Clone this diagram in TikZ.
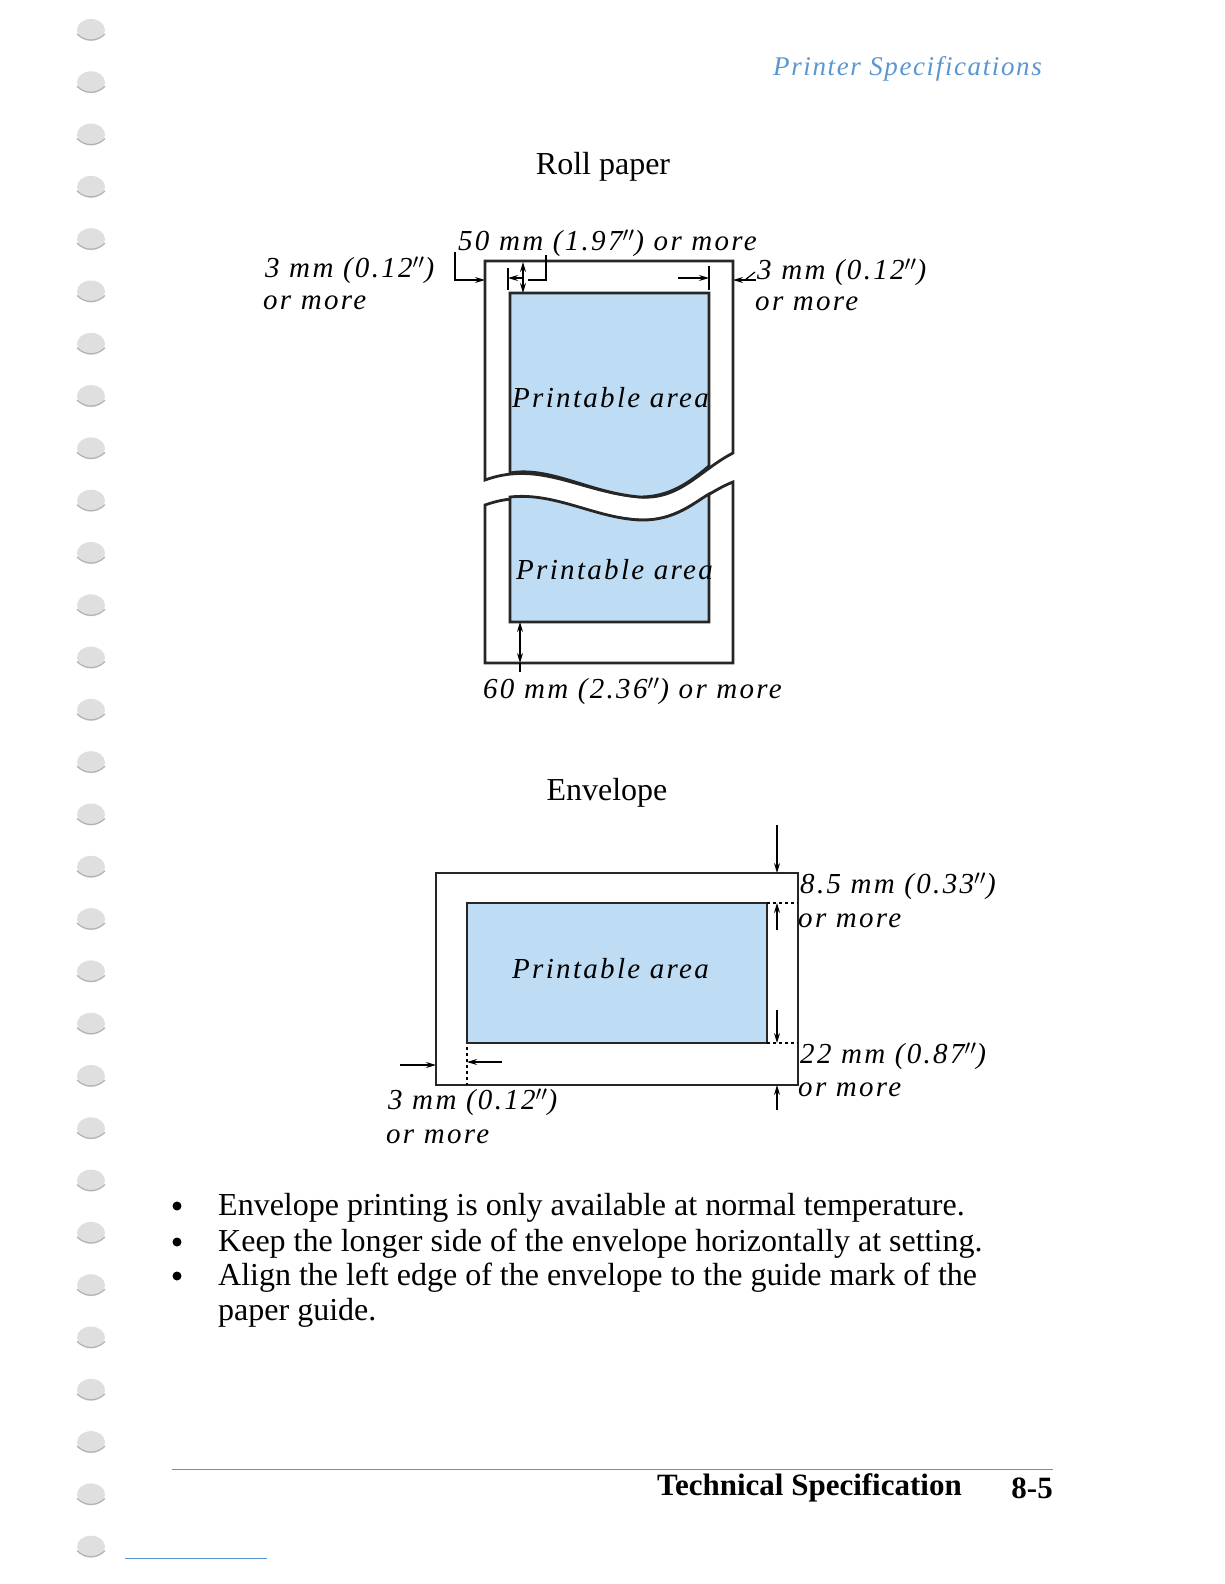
\documentclass[tikz,border=0pt]{standalone}
\usepackage{fontspec}
\setmainfont{Liberation Serif}
\usetikzlibrary{arrows.meta}
\definecolor{pa}{RGB}{190,220,243}
\definecolor{hb}{RGB}{90,150,210}
\tikzset{edge/.style={line width=2.8pt,draw=black!85},
 dim/.style={line width=1.2pt,-{Stealth[length=10pt,width=6pt]}},
 ddim/.style={line width=1.2pt,{Stealth[length=10pt,width=6pt]}-{Stealth[length=10pt,width=6pt]}},
 lab/.style={font=\fontsize{29}{34}\selectfont\itshape\addfontfeatures{LetterSpace=8},inner sep=0pt,anchor=west,yshift=-7pt},
 big/.style={font=\fontsize{32}{38}\selectfont,inner sep=0pt,yshift=-6pt}}
\begin{document}
\begin{tikzpicture}[x=1pt,y=-1pt]
\useasboundingbox (0,0) rectangle (1224,1584);
% binding holes
\foreach \i in {0,...,29}{
 \fill[gray!25] (91,{30+52.3*\i}) ellipse (14 and 11);
 \draw[gray!60,line width=1.2pt] (77,{34+52.3*\i}) .. controls (85,{42+52.3*\i}) and (97,{42+52.3*\i}) .. (105,{34+52.3*\i});}
\node[font=\fontsize{27}{32}\selectfont\itshape\addfontfeatures{LetterSpace=6},text=hb,anchor=east,inner sep=0pt,yshift=-6pt] (hdr) at (1042,63) {Printer Specifications};
\node[big] (rt) at (603,161) {Roll paper};
% roll paper top piece
\path[edge,fill=white] (485,261) -- (733,261) -- (733,453) .. controls (700,470) and (680,500) .. (640,497) .. controls (580,492) and (540,460) .. (485,480) -- cycle;
\path[edge,fill=pa] (510,293) -- (709,293) -- (709,466) .. controls (690,482) and (670,497) .. (640,497) .. controls (590,493) and (550,466) .. (510,473) -- cycle;
% lower piece
\path[edge,fill=white] (485,505) .. controls (540,485) and (580,517) .. (640,520) .. controls (680,522) and (700,495) .. (733,482) -- (733,663) -- (485,663) -- cycle;
\path[edge,fill=pa] (510,497) .. controls (555,492) and (595,518) .. (640,520) .. controls (675,521) and (695,502) .. (709,494) -- (709,622) -- (510,622) -- cycle;
\node[lab] (pa1) at (512,391) {Printable area};
\node[lab] (pa2) at (516,563) {Printable area};
% top dims
\node[lab] (t50) at (458,236) {50 mm (1.97$''$) or more};
\node[lab] (tl) at (265,263) {3 mm (0.12$''$)};
\node[lab] (tl2) at (263,296) {or more};
\node[lab] (tr) at (757,265) {3 mm (0.12$''$)};
\node[lab] (tr2) at (755,297) {or more};
\coordinate (ol) at (485,280); \coordinate (or) at (733,280);
\draw[line width=1.2pt] (455,252) -- (455,280) -- (470,280);
\draw[dim] (462,280) -- (ol);
\draw[line width=1.2pt] (508,268) -- (508,290);
\draw[dim] (522,278) -- (508,278);
\draw[ddim] (523,262) -- (523,293);
\draw[line width=1.2pt] (528,280) -- (546,280) -- (546,255);
\draw[line width=1.2pt] (709,266) -- (709,290);
\draw[dim] (678,278) -- (709,278);
\draw[line width=1.2pt] (755,272) -- (745,280);
\draw[dim] (756,280) -- (or);
% bottom dim
\draw[ddim] (520,622) -- (520,663);
\draw[line width=1.2pt] (520,663) -- (520,672);
\node[lab] (b60) at (483,684) {60 mm (2.36$''$) or more};
% envelope
\node[big] (et) at (607,787) {Envelope};
\draw[edge,fill=white] (436,873) rectangle (798,1085);
\draw[edge,fill=pa] (467,903) rectangle (767,1043);
\node[lab] (pa3) at (512,962) {Printable area};
\draw[dim] (777,825) -- (777,873);
\draw[line width=1.2pt,dashed] (767,903) -- (798,903);
\draw[dim] (777,930) -- (777,903);
\draw[dim] (777,1010) -- (777,1043);
\draw[line width=1.2pt,dashed] (767,1043) -- (798,1043);
\draw[dim] (777,1110) -- (777,1085);
\draw[dim] (400,1065) -- (436,1065);
\draw[line width=1.2pt,dashed] (467,1047) -- (467,1085);
\draw[dim] (502,1062) -- (467,1062);
\node[lab] (e1) at (800,879) {8.5 mm (0.33$''$)};
\node[lab] (e1b) at (798,914) {or more};
\node[lab] (e2) at (800,1049) {22 mm (0.87$''$)};
\node[lab] (e2b) at (798,1083) {or more};
\node[lab] (e3) at (388,1095) {3 mm (0.12$''$)};
\node[lab] (e3b) at (386,1130) {or more};
% bullets
\foreach \y/\t in {1202/{Envelope printing is only available at normal temperature.},1238/{Keep the longer side of the envelope horizontally at setting.},1272/{Align the left edge of the envelope to the guide mark of the}}{
 \fill (177,\y+4) circle (4.5);
 \node[big,anchor=west] at (218,\y) {\t};}
\node[big,anchor=west] (last) at (218,1307) {paper guide.};
% footer
\draw[hb,line width=1pt] (172,1469) -- (1053,1469);
\node[big,font=\fontsize{31}{36}\selectfont\bfseries,anchor=west] (ft) at (657,1482) {Technical Specification};
\node[big,font=\fontsize{31}{36}\selectfont\bfseries,anchor=east] (pg) at (1053,1482) {8-5};
\draw[hb,line width=1pt] (125,1558) -- (267,1558);
\end{tikzpicture}
\end{document}
